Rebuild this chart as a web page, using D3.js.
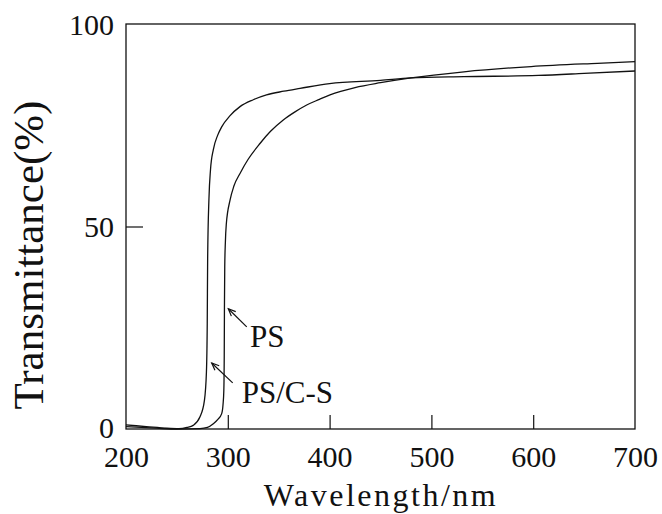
<!DOCTYPE html>
<html><head><meta charset="utf-8">
<script src="https://cdn.jsdelivr.net/npm/d3@7"></script>
<style>body{margin:0;background:#fff}svg{display:block}text{font-family:"Liberation Serif","Times New Roman",serif;fill:#111}</style>
</head><body><svg id="c" width="662" height="514"></svg>
<script>
const psCS = [[200,1.0],[220,0.6],[240,0.2],[252,0.1],[260,0.4],[266,0.9],[272.7,3],[277,7],[279,14],[279.8,26],[280.2,42],[281.5,57],[283,64],[285.8,69],[290,72.5],[294,74.6],[302,77.3],[312,79.6],[325,81.3],[338,82.5],[355,83.4],[371,84.1],[400,85.3],[450,86.1],[480,86.7],[532,87.0],[605,87.3],[650,87.8],[700,88.4]];
const ps = [[200,0.6],[230,0.2],[250,0],[272.7,0.1],[280,0.4],[285.8,1.3],[290,2.3],[294,3.8],[295.3,6],[296.1,9.5],[296.5,18],[296.7,30],[297,40],[297.6,46],[298.5,50.5],[302.2,56.5],[306,60],[312,63.1],[320,66.6],[331.6,70.5],[342,73.5],[354.5,76.3],[366,78.3],[377.5,80],[390,81.4],[400.4,82.5],[425,84.3],[450,85.5],[480,86.7],[532,88.2],[598,89.5],[663,90.3],[700,90.7]];
const xTicks = [200,300,400,500,600,700];
const yTicks = [0,50,100];
const labels = [
  {text:"PS", x:321.8, y:20.2, tip:[300.5,29.7], tail:[318.6,25.2]},
  {text:"PS/C-S", x:313.7, y:6.5, tip:[284.2,16.3], tail:[304.8,11.4]}
];

const svg = d3.select("#c");
const m = {l:126, t:24, r:27, b:85};
const W = 662, H = 514;
const x = d3.scaleLinear().domain([200,700]).range([m.l, W-m.r]);
const y = d3.scaleLinear().domain([0,100]).range([H-m.b, m.t]);

// frame
svg.append("rect").attr("x",m.l).attr("y",m.t).attr("width",W-m.r-m.l).attr("height",H-m.b-m.t)
  .attr("fill","none").attr("stroke","#111").attr("stroke-width",1.3);

// x ticks inside
const xa = svg.append("g").attr("transform",`translate(0,${H-m.b})`)
  .call(d3.axisBottom(x).tickValues(xTicks).tickSize(-14).tickPadding(16).tickFormat(d3.format("d")));
xa.select(".domain").remove();
xa.selectAll("line").attr("stroke","#111").attr("stroke-width",1.2).filter(d=>d===200||d===700).remove();
xa.selectAll("text").attr("font-size",30).attr("fill","#111").attr("y",38).attr("dy",0);

const ya = svg.append("g").attr("transform",`translate(${m.l},0)`)
  .call(d3.axisLeft(y).tickValues(yTicks).tickSize(-17).tickPadding(12).tickFormat(d3.format("d")));
ya.select(".domain").remove();
ya.selectAll("line").attr("stroke","#111").attr("stroke-width",1.2).filter(d=>d===0||d===100).remove();
ya.selectAll("text").attr("font-size",30).attr("fill","#111").attr("dy",d=>d===0?8:10);

// curves
const line = d3.line().x(d=>x(d[0])).y(d=>y(d[1])).curve(d3.curveMonotoneX);
[psCS, ps].forEach(s=>{
  svg.append("path").attr("d",line(s)).attr("fill","none").attr("stroke","#111").attr("stroke-width",1.3);
});

// annotations
labels.forEach(a=>{
  const tx=x(a.tip[0]), ty=y(a.tip[1]), sx=x(a.tail[0]), sy=y(a.tail[1]);
  svg.append("line").attr("x1",sx).attr("y1",sy).attr("x2",tx).attr("y2",ty).attr("stroke","#111").attr("stroke-width",1.2);
  const ang=Math.atan2(sy-ty,sx-tx), L=8, sp=0.4;
  const p1=[tx+L*Math.cos(ang+sp), ty+L*Math.sin(ang+sp)], p2=[tx+L*Math.cos(ang-sp), ty+L*Math.sin(ang-sp)];
  svg.append("path").attr("d",`M${p1}L${tx},${ty}L${p2}`).attr("fill","none").attr("stroke","#111").attr("stroke-width",1.2);
  svg.append("text").attr("x",x(a.x)).attr("y",y(a.y)).attr("font-size",31).text(a.text);
});

// titles
svg.append("text").attr("x",381).attr("y",506).attr("text-anchor","middle").attr("font-size",32)
  .attr("letter-spacing","2.5px").text("Wavelength/nm");
svg.append("text").attr("transform","translate(43,255) rotate(-90)").attr("text-anchor","middle").attr("font-size",43).text("Transmittance(%)");
</script></body></html>
